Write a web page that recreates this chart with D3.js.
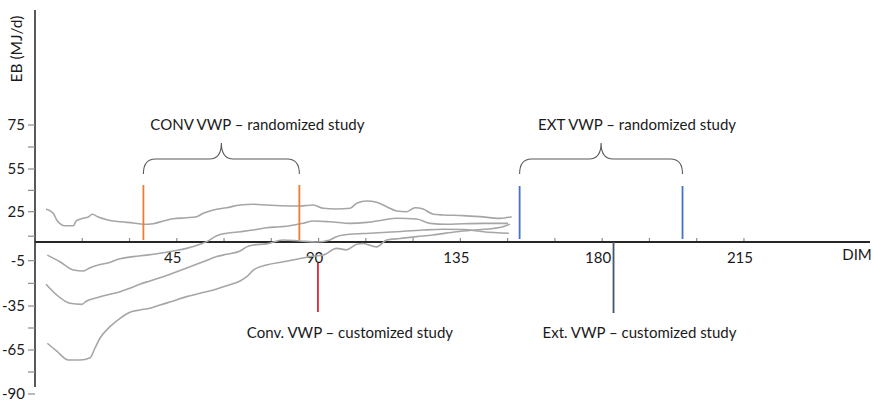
<!DOCTYPE html>
<html>
<head>
<meta charset="utf-8">
<script src="https://cdn.jsdelivr.net/npm/d3@7"></script>
<style>
  html, body { margin: 0; padding: 0; background: #ffffff; }
  svg { display: block; }
  text { font-family: "Lato", "Open Sans", sans-serif; fill: #1a1a1a; }
</style>
</head>
<body>
<svg id="chart" width="873" height="401"></svg>
<script>
// Energy balance (EB, MJ/d) by days in milk (DIM), four lactation curves
// [DIM, EB]
const curveTop = [
  [3.5, 26.9], [5.8, 23.7], [6.9, 18.2], [9.5, 13.4], [12.2, 13.4], [13.0, 17.3],
  [15.3, 19.6], [16.9, 20.6], [18.2, 22.9], [20.1, 20.6], [22.8, 18.4], [27.0, 16.7],
  [31.2, 15.7], [34.4, 14.6], [37.5, 15.1], [40.7, 17.3], [43.9, 19.2], [48.1, 20.0],
  [51.3, 20.9], [53.4, 23.7], [56.6, 26.2], [60.8, 27.8], [65.1, 29.7], [69.3, 30.2],
  [73.5, 29.7], [77.8, 29.2], [84.1, 29.0], [88.3, 29.7], [91.5, 27.4], [95.7, 26.9],
  [100.0, 27.4], [102.1, 30.9], [105.3, 32.5], [108.4, 31.6], [111.6, 28.5], [114.8, 25.5],
  [118.0, 25.0], [120.6, 27.8], [123.2, 26.9], [126.4, 22.9], [129.6, 22.3], [135.9, 21.8],
  [141.2, 20.9], [147.6, 19.5], [151.3, 20.9]
];
const curveSecond = [
  [3.9, -3.5], [7.9, -5.7], [12.2, -11.2], [15.3, -11.8], [17.5, -9.6], [20.1, -7.8],
  [22.8, -6.7], [27.0, -4.5], [31.2, -3.9], [35.4, -3.5], [39.7, -3.0], [43.9, -2.4],
  [48.1, -1.7], [52.4, -0.6], [54.5, 0.3], [57.7, 5.2], [60.8, 7.2], [65.1, 8.5],
  [69.3, 9.9], [73.5, 11.8], [77.8, 12.6], [80.9, 13.4], [85.1, 15.4], [88.3, 17.3],
  [93.6, 16.7], [100.0, 15.4], [105.3, 16.2], [110.5, 18.2], [114.8, 19.6], [121.1, 19.0],
  [125.4, 15.4], [130.7, 14.6], [135.9, 15.1], [142.3, 15.4], [150.1, 15.4]
];
const curveThird = [
  [3.5, -20.6], [6.9, -27.7], [11.1, -33.2], [14.8, -33.9], [16.4, -31.7], [19.6, -29.5],
  [22.8, -27.7], [27.0, -25.5], [30.1, -23.3], [33.3, -20.6], [36.5, -18.4], [40.7, -15.6],
  [45.0, -12.3], [49.2, -9.0], [53.4, -5.7], [57.7, -3.9], [60.8, -3.3], [65.1, -2.4],
  [67.2, -1.3], [69.3, -0.8], [73.5, -0.5], [78.7, 1.7], [84.1, 0.8], [89.5, 0.0],
  [93.6, 1.7], [95.7, 4.4], [100.0, 6.4], [106.3, 7.2], [114.8, 8.5], [123.2, 9.9],
  [129.6, 10.5], [135.9, 10.3], [142.3, 8.5], [150.4, 7.2]
];
const curveBottom = [
  [3.9, -60.4], [6.9, -65.6], [10.6, -70.7], [14.3, -70.7], [17.5, -69.4], [19.0, -63.8],
  [20.6, -57.0], [23.8, -49.1], [27.0, -43.4], [30.1, -39.3], [33.3, -37.7], [36.5, -36.6],
  [39.7, -34.3], [43.9, -31.7], [48.1, -28.8], [52.4, -26.6], [56.6, -24.4], [60.8, -21.6],
  [65.1, -18.4], [67.2, -15.6], [69.3, -11.2], [73.5, -7.8], [78.8, -5.7], [83.1, -4.6],
  [87.3, -3.9], [91.5, -3.5], [95.7, -1.7], [98.9, -2.1], [102.1, -0.6], [104.1, -0.4],
  [108.4, -1.3], [111.6, 1.7], [115.8, 2.9], [121.1, 4.4], [126.3, 5.8], [133.8, 8.5],
  [139.6, 9.9], [145.4, 11.1], [148.5, 12.6], [150.7, 14.6]
];

// Axis ticks and labels
const yTickValues = [75, 55, 25, -5, -35, -65, -90];
const yTickLabels = ["75", "55", "25", "-5", "-35", "-65", "-90"];
const xTickValues = [15, 30, 45, 60, 75, 90, 105, 120, 135, 150, 165, 180, 195, 210, 225];
const xLabelValues = [45, 90, 135, 180, 225];
const xLabelTexts = ["45", "90", "135", "180", "215"];
const xAxisTitle = "DIM";
const yAxisTitle = "EB (MJ/d)";

// Study windows (DIM)
const convRandomized = [34.4, 83.9];
const extRandomized = [153.8, 205.5];
const convCustomized = [89.8];
const extCustomized = [183.6];
const convRandomizedLabel = "CONV VWP \u2013 randomized study";
const extRandomizedLabel = "EXT VWP \u2013 randomized study";
const convCustomizedLabel = "Conv. VWP \u2013 customized study";
const extCustomizedLabel = "Ext. VWP \u2013 customized study";

const svg = d3.select("#chart");

// Horizontal scale: DIM
const x = d3.scaleLinear().domain([0, 265]).range([35, 870]);
// Vertical scale: piecewise between the labelled EB ticks
const y = d3.scaleLinear()
  .domain([75, 55, 25, 0, -5, -35, -65, -90])
  .range([125, 169, 211.7, 242, 260.7, 306, 350, 394]);

const axisX0 = x(0);
const axisY0 = y(0);

// ---- Y axis ----
const gy = svg.append("g");
gy.append("line")
  .attr("x1", axisX0).attr("x2", axisX0)
  .attr("y1", 10).attr("y2", 387)
  .attr("stroke", "#595959").attr("stroke-width", 2);

const yPix = yTickValues.map(v => y(v));
const yMinor = d3.pairs(yPix).map(([a, b]) => (a + b) / 2);
gy.selectAll("line.major").data(yPix).join("line")
  .attr("x1", axisX0 - 7).attr("x2", axisX0)
  .attr("y1", d => d).attr("y2", d => d)
  .attr("stroke", "#8c8c8c").attr("stroke-width", 1.2);
gy.selectAll("line.minor").data(yMinor).join("line")
  .attr("x1", axisX0 - 7).attr("x2", axisX0)
  .attr("y1", d => d).attr("y2", d => d)
  .attr("stroke", "#8c8c8c").attr("stroke-width", 1.2);
gy.selectAll("text").data(yTickValues).join("text")
  .attr("x", axisX0 - 10)
  .attr("y", d => y(d))
  .attr("dy", "0.35em")
  .attr("text-anchor", "end")
  .attr("font-size", 15)
  .text((d, i) => yTickLabels[i]);

svg.append("text")
  .attr("transform", `translate(${axisX0 - 13},49) rotate(-90)`)
  .attr("text-anchor", "middle")
  .attr("font-size", 15.5)
  .text(yAxisTitle);

// ---- X axis ----
const gx = svg.append("g");
gx.selectAll("line").data(xTickValues).join("line")
  .attr("x1", d => x(d)).attr("x2", d => x(d))
  .attr("y1", axisY0 - 4).attr("y2", axisY0)
  .attr("stroke", "#8c8c8c").attr("stroke-width", 1.2);
gx.append("line")
  .attr("x1", axisX0).attr("x2", x(265))
  .attr("y1", axisY0).attr("y2", axisY0)
  .attr("stroke", "#262626").attr("stroke-width", 1.8);
gx.selectAll("text").data(xLabelValues).join("text")
  .attr("x", d => x(d) - 4)
  .attr("y", axisY0 + 21)
  .attr("text-anchor", "middle")
  .attr("font-size", 15)
  .text((d, i) => xLabelTexts[i]);
svg.append("text")
  .attr("x", 857).attr("y", axisY0 + 18)
  .attr("text-anchor", "middle")
  .attr("font-size", 15)
  .text(xAxisTitle);

// ---- Curves ----
const line = d3.line().x(d => x(d[0])).y(d => y(d[1])).curve(d3.curveMonotoneX);
svg.append("g").selectAll("path")
  .data([curveTop, curveSecond, curveThird, curveBottom])
  .join("path")
  .attr("d", line)
  .attr("fill", "none")
  .attr("stroke", "#a6a6a6")
  .attr("stroke-width", 1.6)
  .attr("stroke-linejoin", "round");

// ---- Study markers ----
function markers(values, color, y1, y2) {
  svg.append("g").selectAll("line").data(values).join("line")
    .attr("x1", d => x(d)).attr("x2", d => x(d))
    .attr("y1", y1).attr("y2", y2)
    .attr("stroke", color).attr("stroke-width", 1.8);
}
markers(convRandomized, "#ed7d31", 185, axisY0 - 2);
markers(extRandomized, "#4472c4", 186, axisY0 - 3);
markers(convCustomized, "#e0262b", axisY0 + 21, axisY0 + 70);
markers(extCustomized, "#44546a", axisY0, axisY0 + 71);

// ---- Curly braces above the randomized windows ----
function brace([d0, d1]) {
  const x0 = x(d0), x1 = x(d1), xm = (x0 + x1) / 2;
  const yEnd = 174, yMid = 159, yTip = 143, r = 12;
  return `M${x0},${yEnd} Q${x0},${yMid} ${x0 + r},${yMid} L${xm - r},${yMid} ` +
         `Q${xm},${yMid} ${xm},${yTip} Q${xm},${yMid} ${xm + r},${yMid} ` +
         `L${x1 - r},${yMid} Q${x1},${yMid} ${x1},${yEnd}`;
}
svg.append("g").selectAll("path")
  .data([convRandomized, extRandomized]).join("path")
  .attr("d", brace)
  .attr("fill", "none")
  .attr("stroke", "#595959")
  .attr("stroke-width", 1.1);

// ---- Annotation labels ----
const notes = [
  { text: convRandomizedLabel, cx: (x(convRandomized[0]) + x(convRandomized[1])) / 2 + 36, y: 130 },
  { text: extRandomizedLabel, cx: (x(extRandomized[0]) + x(extRandomized[1])) / 2 + 36, y: 130 },
  { text: convCustomizedLabel, cx: x(convCustomized[0]) + 32, y: 338 },
  { text: extCustomizedLabel, cx: x(extCustomized[0]) + 26, y: 338 }
];
svg.append("g").selectAll("text").data(notes).join("text")
  .attr("x", d => d.cx)
  .attr("y", d => d.y)
  .attr("text-anchor", "middle")
  .attr("font-size", 15)
  .text(d => d.text);
</script>
</body>
</html>
